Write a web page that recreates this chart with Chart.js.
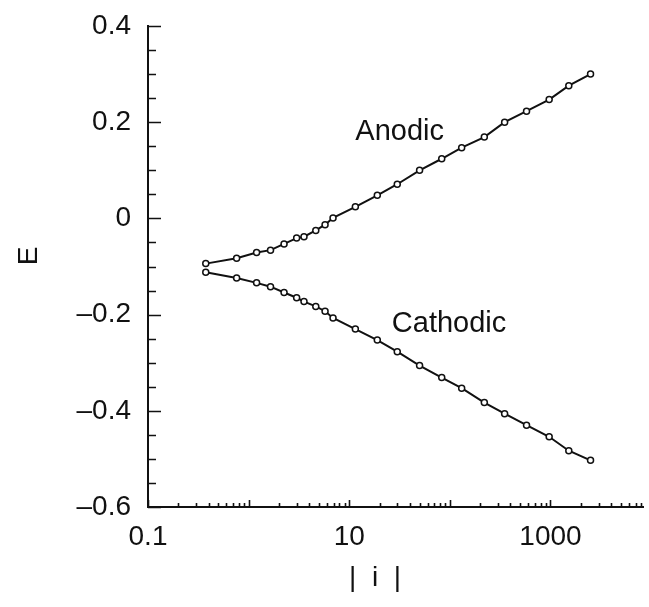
<!DOCTYPE html>
<html>
<head>
<meta charset="utf-8">
<script src="https://cdn.jsdelivr.net/npm/chart.js@4/dist/chart.umd.min.js"></script>
<style>
  html, body { margin: 0; padding: 0; background: #fff; }
  #wrap { width: 649px; height: 607px; }
</style>
</head>
<body>
<div id="wrap"><canvas id="polChart" width="649" height="607"></canvas></div>
<script>
// current density |i| (log axis)
const currents = [0.375, 0.76, 1.2, 1.65, 2.25, 3.0, 3.55, 4.65, 5.75, 6.9,
                  11.5, 19, 30, 50, 83, 131, 220, 350, 578, 970, 1520, 2500];
// potential E, anodic branch
const anodicE = [-0.094, -0.083, -0.071, -0.066, -0.053, -0.041, -0.038, -0.025, -0.013, 0.001,
                 0.024, 0.048, 0.071, 0.100, 0.124, 0.147, 0.169, 0.200, 0.223, 0.247, 0.276, 0.300];
// potential E, cathodic branch
const cathodicE = [-0.112, -0.124, -0.134, -0.142, -0.154, -0.165, -0.173, -0.183, -0.193, -0.207,
                   -0.230, -0.253, -0.277, -0.306, -0.331, -0.353, -0.383, -0.406, -0.430, -0.454, -0.483, -0.503];

const xLabelValues = [0.1, 10, 1000];
const xLabelText = ['0.1', '10', '1000'];
const yTickValues = [0.4, 0.2, 0, -0.2, -0.4, -0.6];
const yTickText = ['0.4', '0.2', '0', '\u20130.2', '\u20130.4', '\u20130.6'];

const curveLabels = [
    { text: 'Anodic', x: 11.5, y: 0.163 },
    { text: 'Cathodic', x: 26.5, y: -0.236 }
];

const FONT = '"Liberation Sans", Arial, Helvetica, sans-serif';

function toPoints(ys) {
    return currents.map((c, i) => ({ x: c, y: ys[i] }));
}

// ticks pointing into the plot, plus axis titles and curve labels
const extras = {
    id: 'extras',
    afterDraw(chart) {
        const { ctx, chartArea } = chart;
        const x = chart.scales.x, y = chart.scales.y;
        ctx.save();
        ctx.strokeStyle = '#111';
        ctx.lineWidth = 1.6;
        ctx.beginPath();
        for (let d = -1; d <= 4; d++) {
            for (let m = 1; m <= 9; m++) {
                const v = m * Math.pow(10, d);
                if (v < x.min || v > x.max) continue;
                const px = Math.round(x.getPixelForValue(v)) + 0.5;
                const len = m === 1 ? 7 : 4;
                ctx.moveTo(px, chartArea.bottom);
                ctx.lineTo(px, chartArea.bottom - len);
            }
        }
        for (let k = 0; k <= 20; k++) {
            const v = -0.6 + k * 0.05;
            const py = Math.round(y.getPixelForValue(v)) + 0.5;
            const len = k % 4 === 0 ? 13 : 8;
            ctx.moveTo(chartArea.left, py);
            ctx.lineTo(chartArea.left + len, py);
        }
        ctx.stroke();

        ctx.fillStyle = '#111';
        ctx.font = '29px ' + FONT;
        ctx.textBaseline = 'alphabetic';
        ctx.textAlign = 'left';
        curveLabels.forEach(l => {
            ctx.fillText(l.text, x.getPixelForValue(l.x), y.getPixelForValue(l.y));
        });

        ctx.font = '28px ' + FONT;
        ctx.textAlign = 'center';
        ctx.textBaseline = 'middle';
        ctx.fillText('|  i  |', 375, 578);

        ctx.translate(29, 256);
        ctx.rotate(-Math.PI / 2);
        ctx.fillText('E', 0, 0);
        ctx.restore();
    }
};

const ctx = document.getElementById('polChart').getContext('2d');
new Chart(ctx, {
    type: 'line',
    data: {
        datasets: [
            {
                label: 'Anodic',
                data: toPoints(anodicE),
                borderColor: '#111',
                borderWidth: 2,
                pointRadius: 3,
                pointBorderWidth: 1.5,
                pointBackgroundColor: '#fff',
                pointBorderColor: '#111',
                tension: 0
            },
            {
                label: 'Cathodic',
                data: toPoints(cathodicE),
                borderColor: '#111',
                borderWidth: 2,
                pointRadius: 3,
                pointBorderWidth: 1.5,
                pointBackgroundColor: '#fff',
                pointBorderColor: '#111',
                tension: 0
            }
        ]
    },
    options: {
        responsive: false,
        animation: false,
        layout: { padding: { top: 26, right: 0, bottom: 0, left: 0 } },
        plugins: {
            legend: { display: false },
            tooltip: { enabled: false }
        },
        scales: {
            x: {
                type: 'logarithmic',
                min: 0.1,
                max: 8400,
                afterBuildTicks: scale => {
                    scale.ticks = xLabelValues.map(v => ({ value: v }));
                },
                afterFit: scale => {
                    scale.height = 100;
                    scale.paddingLeft = 0;
                    scale.paddingRight = 0;
                },
                grid: { display: false, drawTicks: false },
                border: { display: true, color: '#111', width: 2 },
                ticks: {
                    autoSkip: false,
                    maxRotation: 0,
                    padding: 13,
                    color: '#111',
                    font: { family: FONT, size: 28 },
                    callback: value => {
                        const i = xLabelValues.findIndex(v => Math.abs(v - value) < value * 1e-6);
                        return i >= 0 ? xLabelText[i] : '';
                    }
                }
            },
            y: {
                type: 'linear',
                min: -0.6,
                max: 0.4,
                afterBuildTicks: scale => {
                    scale.ticks = yTickValues.map(v => ({ value: v }));
                },
                afterFit: scale => {
                    scale.width = 148;
                    scale.paddingTop = 0;
                    scale.paddingBottom = 0;
                },
                grid: { display: false, drawTicks: false },
                border: { display: true, color: '#111', width: 2 },
                ticks: {
                    padding: 17,
                    color: '#111',
                    font: { family: FONT, size: 28 },
                    callback: value => {
                        const i = yTickValues.findIndex(v => Math.abs(v - value) < 1e-9);
                        return i >= 0 ? yTickText[i] : '';
                    }
                }
            }
        }
    },
    plugins: [extras]
});
</script>
</body>
</html>
